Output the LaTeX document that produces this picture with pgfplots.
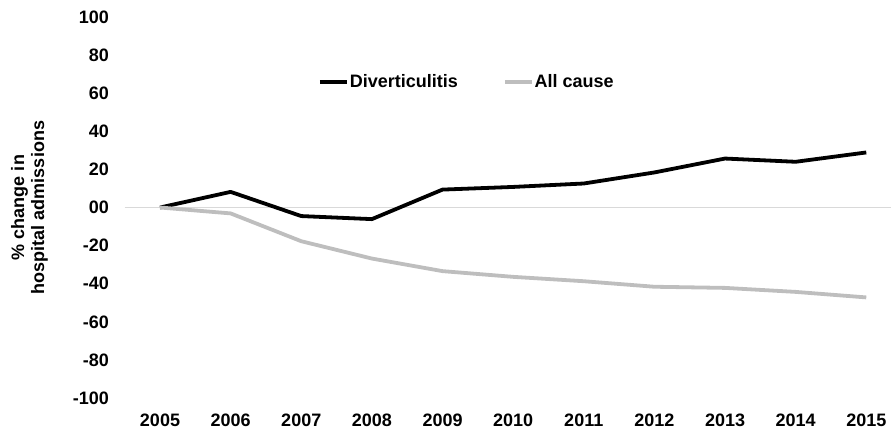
\documentclass[border=0pt]{standalone}
\usepackage{fontspec}
\setmainfont{Liberation Sans}
\usepackage{pgfplots}
\pgfplotsset{compat=1.18}

\definecolor{allcause}{RGB}{190,190,190}

\begin{document}
\begin{tikzpicture}
\path[use as bounding box] (-124.7pt,-34pt) rectangle (766.3pt,398pt);
\begin{axis}[
    scale only axis,
    width=766.3pt, height=381pt,
    xmin=2004.5, xmax=2015.35,
    ymin=-100, ymax=100,
    font=\fontsize{18}{20}\selectfont\bfseries,
    /pgf/number format/assume math mode=true,
    xtick={2005,2006,...,2015},
    xticklabel style={/pgf/number format/1000 sep=, anchor=north, inner sep=0pt, yshift=-16pt},
    ytick={-100,-80,...,100},
    yticklabels={-100,-80,-60,-40,-20,00,20,40,60,80,100},
    yticklabel style={anchor=east, inner sep=0pt, xshift=-15.7pt},
    axis line style={draw=none},
    tick style={draw=none},
    ylabel={\% change in\\hospital admissions},
    ylabel style={at={(axis description cs:-0.1001,0.5)}, anchor=south, align=center, inner sep=0pt},
    legend columns=2,
    legend style={draw=none, fill=none, inner sep=0pt, outer sep=0pt,
        at={(rel axis cs:0.2523,0.830)}, anchor=west,
        nodes={inner sep=1pt},
        /tikz/every even column/.append style={column sep=44pt}},
    legend image code/.code={\draw[#1] (0pt,0pt) -- (27pt,0pt);},
]
\draw[black!15, line width=1pt] (axis cs:2004.5,0) -- (axis cs:2015.35,0);

\addplot[black, line width=3.8pt, line join=round] coordinates {
    (2005,0) (2006,8.2) (2007,-4.5) (2008,-6.1) (2009,9.4) (2010,10.8)
    (2011,12.6) (2012,18.4) (2013,25.7) (2014,24.0) (2015,28.9)
};
\addlegendentry{Diverticulitis}

\addplot[allcause, line width=3.8pt, line join=round] coordinates {
    (2005,0) (2006,-3.1) (2007,-17.7) (2008,-26.8) (2009,-33.4) (2010,-36.4)
    (2011,-38.7) (2012,-41.6) (2013,-42.2) (2014,-44.3) (2015,-47.2)
};
\addlegendentry{All cause}
\end{axis}
\end{tikzpicture}
\end{document}
